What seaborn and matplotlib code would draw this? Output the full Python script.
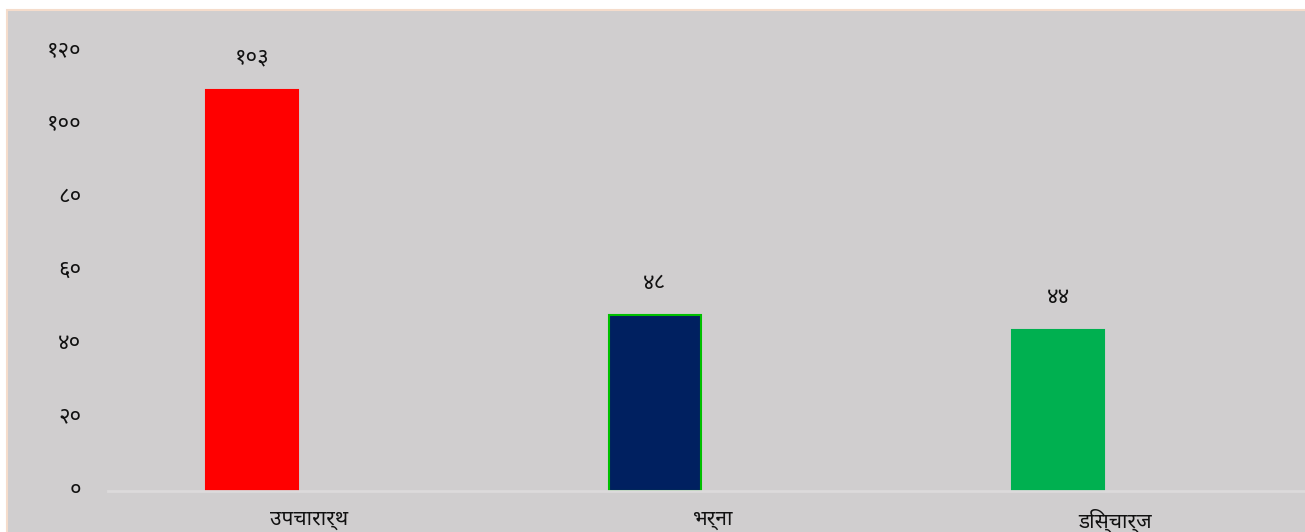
import matplotlib
matplotlib.use("Agg")
import matplotlib.pyplot as plt
from matplotlib.patches import Rectangle
from matplotlib.transforms import ScaledTranslation
import seaborn as sns
import pandas as pd

# ---- data ----
categories = ["उपचारार्थ", "भर्ना", "डिस्चार्ज"]
values = [109.5, 48, 44]
value_labels = ["१०३", "४८", "४४"]
yticks = [0, 20, 40, 60, 80, 100, 120]
ytick_labels = ["०", "२०", "४०", "६०", "८०", "१००", "१२०"]
bar_colors = ["#FF0000", "#002060", "#00B050"]
edge_colors = ["#FF0000", "#00C000", "#00B050"]

W, H = 1305, 532
BG = "#D0CECF"
FONTS = ["Noto Sans Devanagari", "Mukta", "Hind", "Lohit Devanagari", "FreeSans", "DejaVu Sans"]

sns.set_theme(style="white")
plt.rcParams["font.family"] = FONTS

fig = plt.figure(figsize=(W / 100, H / 100), dpi=100, facecolor="white")
fig.patches.append(Rectangle((7 / W, -0.01), 1.0, (H - 10) / H + 0.01,
                             transform=fig.transFigure, facecolor=BG,
                             edgecolor="#F5DCCB", linewidth=1.5, zorder=-1))

ax = fig.add_axes([108 / W, (H - 491) / H, 1 - 108 / W, (491 - 51) / H])
ax.set_facecolor(BG)

df = pd.DataFrame({"cat": categories, "val": values})
sns.barplot(data=df, x="cat", y="val", hue="cat", palette=bar_colors,
            legend=False, width=0.226, ax=ax, saturation=1)
for patch, ec in zip(ax.patches, edge_colors):
    patch.set_edgecolor(ec)
    patch.set_linewidth(1.5)

for i, (v, lab) in enumerate(zip(values, value_labels)):
    ax.annotate(lab, (i, v), xytext=(0, 23), textcoords="offset points",
                ha="center", va="center", fontsize=16, color="#111111")

ax.set_xlim(-(252 - 108) / 403, 2 + (1305 - 1058) / 403)
ax.set_ylim(0, 120)
ax.set_yticks(yticks)
ax.set_yticklabels(ytick_labels, fontsize=16, color="#111111")
ax.tick_params(axis="y", length=0, pad=19)
ax.tick_params(axis="x", length=0, pad=13, labelsize=15, labelcolor="#111111")
ax.set_xlabel("")
ax.set_ylabel("")

# category labels sit to the right of the bars, as in the reference
shift = ScaledTranslation(57 / 100, 0, fig.dpi_scale_trans)
for lbl in ax.get_xticklabels():
    lbl.set_transform(lbl.get_transform() + shift)
yshift = ScaledTranslation(0, 3 / 100, fig.dpi_scale_trans)
for lbl in ax.get_yticklabels():
    lbl.set_transform(lbl.get_transform() + yshift)

for s in ["top", "right", "left"]:
    ax.spines[s].set_visible(False)
ax.spines["bottom"].set_color("#DCDADB")
ax.spines["bottom"].set_linewidth(2)
ax.grid(False)

fig.savefig("out.png", dpi=100, facecolor="white")
